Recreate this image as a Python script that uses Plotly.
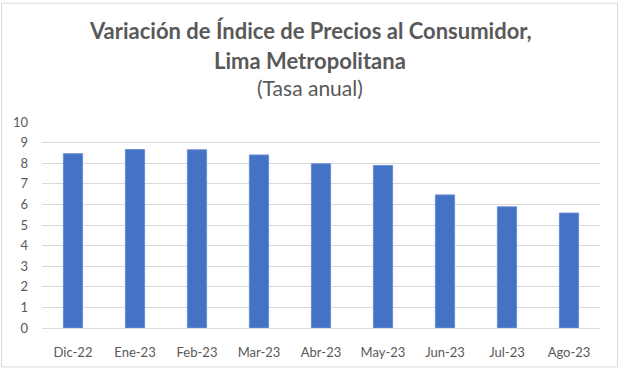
import plotly.graph_objects as go

categories = ["Dic-22", "Ene-23", "Feb-23", "Mar-23", "Abr-23", "May-23", "Jun-23", "Jul-23", "Ago-23"]
values = [8.46, 8.66, 8.65, 8.40, 7.97, 7.89, 6.46, 5.88, 5.58]
y_ticks = list(range(0, 11))

W, H = 620, 372
L, R, T, B = 42, 20, 122, 41
pw, ph = W - L - R, H - T - B

def px(x):
    return (x - L) / pw

def py(y):
    return (H - B - y) / ph

fig = go.Figure(go.Bar(
    x=categories, y=values,
    marker=dict(color="#4472C4", line=dict(width=1, color="#6a8fd3")),
    width=0.31,
))

fig.update_layout(
    width=W, height=H,
    margin=dict(l=L, r=R, t=T, b=B),
    paper_bgcolor="white", plot_bgcolor="white",
    font=dict(family="Lato, Open Sans, sans-serif", color="#595959", size=13),
    showlegend=False,
    bargap=0.69,
    xaxis=dict(showgrid=False, showline=True, linecolor="#d9d9d9", linewidth=1,
               tickfont=dict(size=13, color="#595959"), ticklabelstandoff=12),
    yaxis=dict(range=[0, 10], tickvals=y_ticks, showgrid=True, gridcolor="#d9d9d9",
               gridwidth=1, zeroline=False, showline=False,
               tickfont=dict(size=13, color="#595959"), ticklabelstandoff=13),
    shapes=[dict(type="rect", xref="paper", yref="paper",
                 x0=px(1.5), x1=px(617.5), y0=py(1.5), y1=py(370.5),
                 line=dict(color="#d9d9d9", width=1), layer="below")],
    annotations=[
        dict(text="<b>Variación de Índice de Precios al Consumidor,</b>", xref="paper", yref="paper",
             x=px(310), y=py(29), xanchor="center", yanchor="middle", showarrow=False,
             font=dict(size=22, color="#595959")),
        dict(text="<b>Lima Metropolitana</b>", xref="paper", yref="paper",
             x=px(310), y=py(60), xanchor="center", yanchor="middle", showarrow=False,
             font=dict(size=22, color="#595959")),
        dict(text="(Tasa anual)", xref="paper", yref="paper",
             x=px(310), y=py(87), xanchor="center", yanchor="middle", showarrow=False,
             font=dict(size=21, color="#595959")),
    ],
)

fig.write_html("out.html", config={"displayModeBar": False},
               post_script="document.body.style.margin='0';document.body.style.overflow='hidden';")
